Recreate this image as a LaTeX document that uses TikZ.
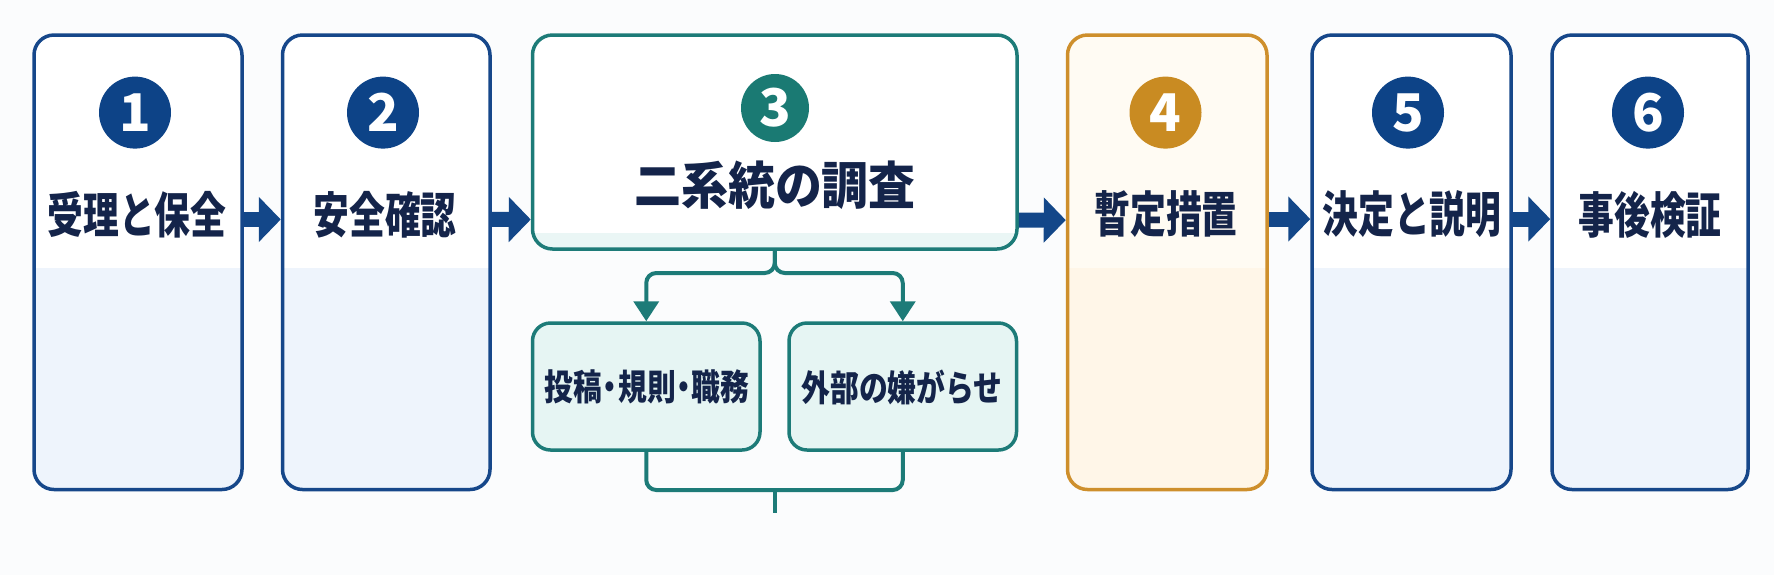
\documentclass[tikz,border=0pt]{standalone}
\usepackage{fontspec}
\usepackage{graphicx}
\setmainfont{Noto Sans CJK JP}
\usetikzlibrary{arrows.meta,calc}
\definecolor{bg}{HTML}{FBFCFD}
\definecolor{navy}{HTML}{16478A}
\definecolor{navycirc}{HTML}{0D4387}
\definecolor{navyarrow}{HTML}{134789}
\definecolor{ink}{HTML}{14244A}
\definecolor{bluetint}{HTML}{EEF4FC}
\definecolor{tealc}{HTML}{1D7B78}
\definecolor{tealcirc}{HTML}{1A7A73}
\definecolor{tealfill}{HTML}{E6F5F3}
\definecolor{tealband}{HTML}{EAF6F5}
\definecolor{orangec}{HTML}{CE8F2C}
\definecolor{orangecirc}{HTML}{C98B22}
\definecolor{orangetop}{HTML}{FFFBF3}
\definecolor{orangelow}{HTML}{FFF6E8}
\newcommand{\nkdot}{\makebox[0.55em]{・}}
\tikzset{
  stepbox/.style={draw=navy, line width=1.75pt, rounded corners=10pt, fill=white,
    minimum height=227.25pt, inner sep=0pt,
    path picture={\fill[bluetint, sharp corners] (path picture bounding box.south west) rectangle ([yshift=110.75pt]path picture bounding box.south east);}},
  orangebox/.style={draw=orangec, line width=1.75pt, rounded corners=10pt, fill=orangetop,
    minimum height=227.25pt, inner sep=0pt,
    path picture={\fill[orangelow, sharp corners] (path picture bounding box.south west) rectangle ([yshift=110.75pt]path picture bounding box.south east);}},
  bigbox/.style={draw=tealc, line width=1.75pt, rounded corners=10pt, fill=white,
    minimum height=107pt, minimum width=242.25pt, inner sep=0pt,
    path picture={\fill[tealband, sharp corners] (path picture bounding box.south west) rectangle ([yshift=8pt]path picture bounding box.south east);}},
  subbox/.style={draw=tealc, line width=1.75pt, rounded corners=9pt, fill=tealfill,
    minimum height=63.5pt, minimum width=113.75pt, inner sep=0pt},
  numcirc/.style={circle, minimum size=36pt, inner sep=0pt, text=white,
    font=\bfseries\fontsize{26pt}{26pt}\selectfont},
  steplabel/.style={text=ink, inner sep=0pt, font=\bfseries\fontsize{24.5pt}{24.5pt}\selectfont},
  sublabel/.style={text=ink, inner sep=0pt, font=\bfseries\fontsize{18pt}{18pt}\selectfont},
  flow/.style={draw=navyarrow, line width=7.5pt, -{Triangle[length=11pt,width=22pt]}},
  tealline/.style={draw=tealc, line width=2pt},
  branch/.style={tealline, rounded corners=5pt, -{Triangle[length=10pt,width=12.5pt]}}
}
\begin{document}
\begin{tikzpicture}[x=0.5pt,y=-0.5pt]
\fill[bg] (0,0) rectangle (1774,575);
\useasboundingbox (0,0) rectangle (1774,575);

% boxes
\node[stepbox, minimum width=104pt] (b1) at (138,262.25) {};
\node[stepbox, minimum width=103.75pt] (b2) at (386.25,262.25) {};
\node[bigbox] (b3) at (774.75,142) {};
\node[orangebox, minimum width=99.75pt] (b4) at (1167.25,262.25) {};
\node[stepbox, minimum width=99.5pt] (b5) at (1411.5,262.25) {};
\node[stepbox, minimum width=98pt] (b6) at (1650,262.25) {};
\node[subbox] (sa) at (646.25,386.5) {};
\node[subbox] (sb) at (902.75,386.5) {};

% number circles
\node[numcirc, fill=navycirc] (n1) at (135,112.6) {1};
\node[numcirc, fill=navycirc] (n2) at (383,112.6) {2};
\node[numcirc, fill=tealcirc, minimum size=34pt] (n3) at (775,108) {3};
\node[numcirc, fill=orangecirc] (n4) at (1165.5,112.6) {4};
\node[numcirc, fill=navycirc] (n5) at (1408,112.6) {5};
\node[numcirc, fill=navycirc] (n6) at (1648,112.6) {6};

% labels
\node[steplabel] (t1) at (137,214.5) {\scalebox{0.73}[1]{受理と保全}};
\node[steplabel] (t2) at (385,214.5) {\scalebox{0.73}[1]{安全確認}};
\node[steplabel, font=\bfseries\fontsize{25.5pt}{25.5pt}\selectfont] (t3) at (775,185) {\scalebox{0.92}[1]{二系統の調査}};
\node[steplabel] (t4) at (1166,214.5) {\scalebox{0.73}[1]{暫定措置}};
\node[steplabel] (t5) at (1412,214.5) {\scalebox{0.73}[1]{決定と説明}};
\node[steplabel] (t6) at (1650,214.5) {\scalebox{0.73}[1]{事後検証}};
\node[sublabel] (ta) at (647,387) {\scalebox{0.8}[1]{投稿\nkdot 規則\nkdot 職務}};
\node[sublabel] (tb) at (902,387) {\scalebox{0.8}[1]{外部の嫌がらせ}};

% main flow arrows
\coordinate (yA) at (0,219.5);
\coordinate (yB) at (0,220);
\draw[flow] ([yshift=21.4pt]b1.east) -- ([yshift=21.4pt]b2.west);
\draw[flow] ([yshift=21.4pt]b2.east) -- (b3.west |- yA);
\draw[flow] (b3.east |- yB) -- ([yshift=21.1pt]b4.west);
\draw[flow] ([yshift=21.6pt]b4.east) -- ([yshift=21.6pt]b5.west);
\draw[flow] ([yshift=21.6pt]b5.east) -- ([yshift=21.6pt]b6.west);

% branching
\coordinate (split) at (774.75,273);
\draw[branch] (b3.south) -- (split) -| (sa.north);
\draw[branch] (b3.south) -- (split) -| (sb.north);
\coordinate (merge) at (774.75,490);
\coordinate (tail) at (774.75,513);
\draw[tealline, rounded corners=5pt] (sa.south) |- (merge) -| (sb.south);
\draw[tealline] (merge) -- (tail);
\end{tikzpicture}
\end{document}
